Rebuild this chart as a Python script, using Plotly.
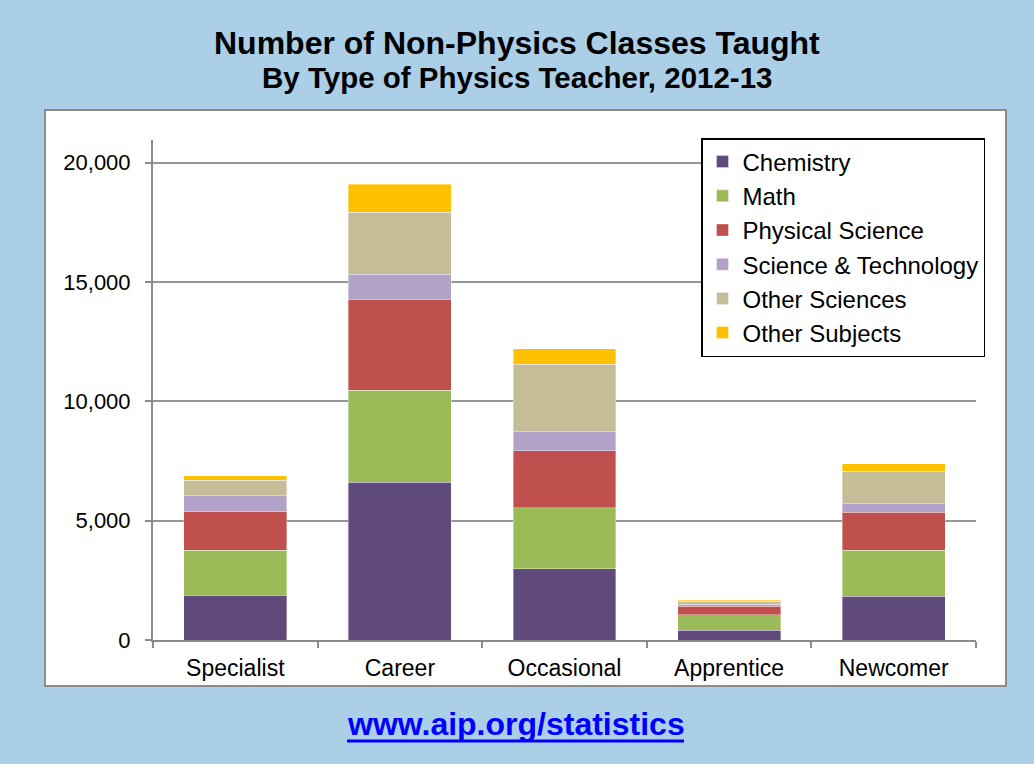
import plotly.graph_objects as go

categories = ["Specialist", "Career", "Occasional", "Apprentice", "Newcomer"]
series_names = ["Chemistry", "Math", "Physical Science", "Science & Technology",
                "Other Sciences", "Other Subjects"]
chemistry = [1880, 6610, 2980, 410, 1830]
math = [1880, 3850, 2570, 650, 1930]
physical_science = [1610, 3800, 2390, 360, 1600]
science_technology = [670, 1060, 780, 70, 350]
other_sciences = [650, 2610, 2830, 140, 1370]
other_subjects = [190, 1170, 650, 30, 310]
series_values = [chemistry, math, physical_science, science_technology,
                 other_sciences, other_subjects]
colors = ["#604a7b", "#9bbb59", "#c0504d", "#b3a2c7", "#c4bd97", "#ffc000"]
y_ticks = [0, 5000, 10000, 15000, 20000]

FONT = "Liberation Sans, Arial, sans-serif"
L, R, T, B = 153, 976, 140, 640
W, H = R - L, B - T


def px(x):
    return (x - L) / W


def py(y):
    return (B - y) / H


fig = go.Figure()
for name, vals, col in zip(series_names, series_values, colors):
    fig.add_trace(go.Bar(
        x=categories, y=vals, name=name, legendgroup=name,
        marker=dict(color=col, line=dict(color="rgba(255,255,255,0.6)", width=0.6)),
    ))

fig.update_layout(
    width=1034, height=764,
    margin=dict(l=L, r=1034 - R, t=T, b=764 - B),
    paper_bgcolor="#aacfe7",
    plot_bgcolor="white",
    barmode="stack",
    bargap=0.375,
    font=dict(family=FONT, color="black", size=22),
    showlegend=True,
    legend=dict(
        x=px(985), y=py(138), xanchor="right", yanchor="top",
        bgcolor="white", bordercolor="black", borderwidth=1.5,
        font=dict(family=FONT, size=24, color="black"),
        traceorder="grouped", tracegroupgap=0,
        itemclick=False,
    ),
    xaxis=dict(
        showline=True, linecolor="#8c8c8c", linewidth=2,
        ticks="outside", tickson="boundaries", ticklen=6,
        tickcolor="#8c8c8c", tickwidth=2,
        tickfont=dict(family=FONT, size=23, color="black"),
        ticklabelstandoff=6,
        showgrid=False,
    ),
    yaxis=dict(
        range=[0, 20950], tickvals=y_ticks, tickformat=",",
        showline=True, linecolor="#8c8c8c", linewidth=2,
        ticks="outside", ticklen=6, tickcolor="#8c8c8c", tickwidth=2,
        gridcolor="#969696", gridwidth=1.5,
        zeroline=False,
        tickfont=dict(family=FONT, size=22, color="black"),
        ticklabelstandoff=10,
    ),
    shapes=[
        dict(type="rect", xref="paper", yref="paper", layer="below",
             x0=px(45), x1=px(1006), y0=py(686), y1=py(110),
             fillcolor="white", line=dict(color="#8c8c8c", width=2)),
        dict(type="line", xref="paper", yref="paper",
             x0=px(347), x1=px(684), y0=py(741), y1=py(741),
             line=dict(color="#0000ff", width=3)),
    ],
    annotations=[
        dict(text="<b>Number of Non-Physics Classes Taught</b>", xref="paper", yref="paper",
             x=px(517), y=py(43), showarrow=False, xanchor="center", yanchor="middle",
             font=dict(family=FONT, size=32, color="black")),
        dict(text="<b>By Type of Physics Teacher, 2012-13</b>", xref="paper", yref="paper",
             x=px(517), y=py(77), showarrow=False, xanchor="center", yanchor="middle",
             font=dict(family=FONT, size=29.5, color="black")),
        dict(text="<b>www.aip.org/statistics</b>", xref="paper", yref="paper",
             x=px(515.5), y=py(724), showarrow=False, xanchor="center", yanchor="middle",
             font=dict(family=FONT, size=32, color="#0000ff")),
    ],
)

fig.write_html("out.html", config={"displayModeBar": False},
               post_script="document.body.style.margin='0';document.body.style.overflow='hidden';")
